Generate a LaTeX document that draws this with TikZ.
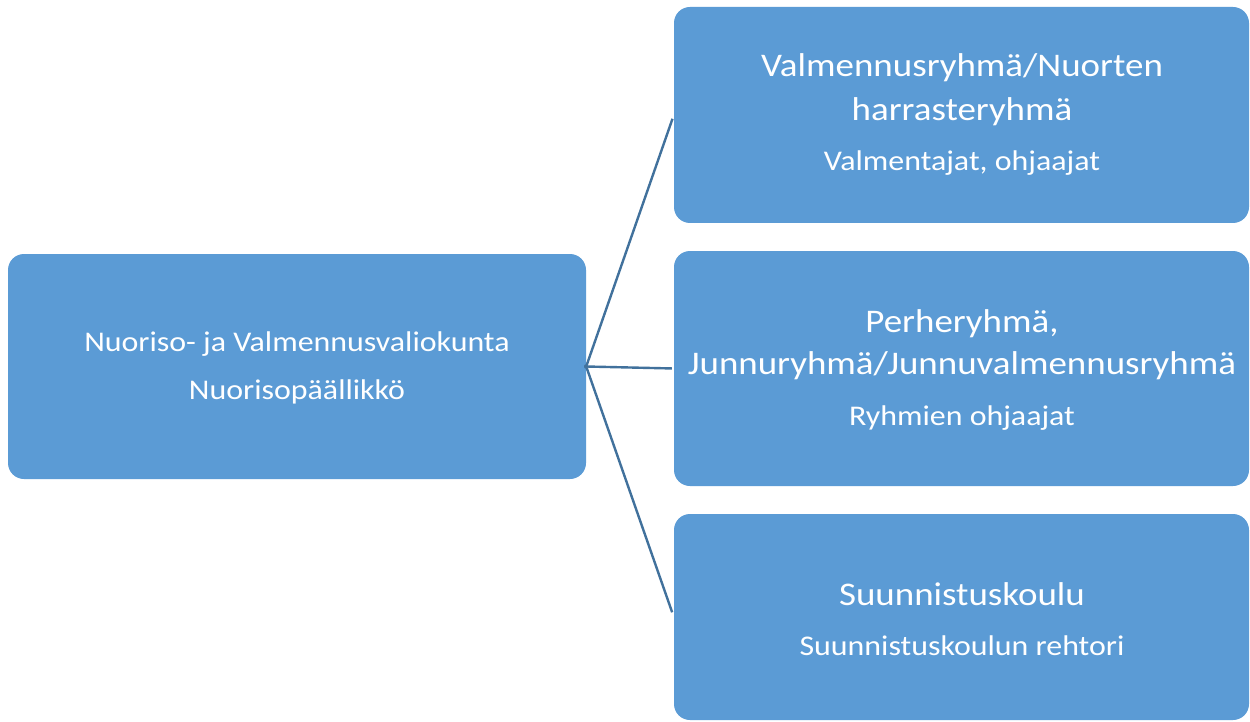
\documentclass[tikz,border=0pt]{standalone}
\usepackage{fontspec}
\setmainfont{Carlito}[FakeStretch=1.12]
\definecolor{boxfill}{HTML}{5B9BD5}
\definecolor{linecol}{HTML}{41719C}
\begin{document}
\begin{tikzpicture}[x=1pt,y=-1pt,
  orgbox/.style={fill=boxfill, rounded corners=16pt, draw=none, inner sep=0pt},
  bigtxt/.style={text=white, anchor=base, inner sep=0pt, font=\fontsize{33}{40}\selectfont},
  smalltxt/.style={text=white, anchor=base, inner sep=0pt, font=\fontsize{28.5}{34}\selectfont},
  conn/.style={draw=linecol, line width=2.4pt}]
\useasboundingbox (0,0) rectangle (1250,722);
\node[orgbox, minimum width=578pt, minimum height=225pt] (lead) at (297,366.5) {};
\node[orgbox, minimum width=575pt, minimum height=216pt] (g1) at (961.5,115) {};
\node[orgbox, minimum width=575pt, minimum height=235pt] (g2) at (961.5,368.5) {};
\node[orgbox, minimum width=575pt, minimum height=206pt] (g3) at (961.5,617) {};
% texts
\node[smalltxt] (lead1) at (297,351) {Nuoriso- ja Valmennusvaliokunta};
\node[smalltxt] (lead2) at (297,399) {Nuorisopäällikkö};
\node[bigtxt] (g1a) at (962,77) {Valmennusryhmä/Nuorten};
\node[bigtxt] (g1b) at (962,121) {harrasteryhmä};
\node[smalltxt] (g1c) at (962,171) {Valmentajat, ohjaajat};
\node[bigtxt] (g2a) at (962,332) {Perheryhmä,};
\node[bigtxt] (g2b) at (962,374) {Junnuryhmä/Junnuvalmennusryhmä};
\node[smalltxt] (g2c) at (962,425) {Ryhmien ohjaajat};
\node[bigtxt] (g3a) at (962,605) {Suunnistuskoulu};
\node[smalltxt] (g3b) at (962,655) {Suunnistuskoulun rehtori};
% connectors
\draw[conn, shorten >=4pt, shorten <=-2pt] (lead.east) -- (g1.west);
\draw[conn, shorten >=2pt, shorten <=-2pt] (lead.east) -- (g2.west);
\draw[conn, shorten >=5pt, shorten <=-2pt] (lead.east) -- (g3.west);
\end{tikzpicture}
\end{document}
